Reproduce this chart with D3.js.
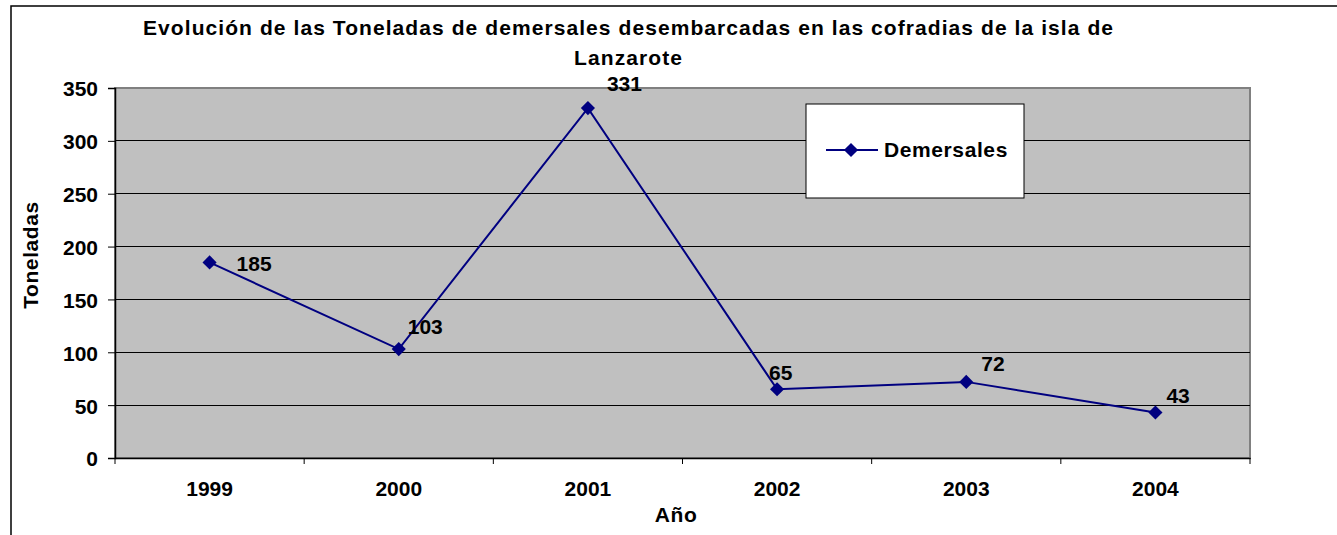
<!DOCTYPE html>
<html><head><meta charset="utf-8">
<script src="https://cdn.jsdelivr.net/npm/d3@7"></script>
<style>body{margin:0;background:#fff}svg{display:block}text{font-family:"Liberation Sans",Arial,sans-serif;font-weight:bold;fill:#000}</style>
</head><body>
<script>
const titleLines = ["Evolución de las Toneladas de demersales desembarcadas en las cofradias de la isla de", "Lanzarote"];
const years = ["1999","2000","2001","2002","2003","2004"];
const demersales = [185, 103, 331, 65, 72, 43];
const yTicks = [0,50,100,150,200,250,300,350];
const seriesName = "Demersales";
const xTitle = "Año";
const yTitle = "Toneladas";

const W = 1337, H = 535;
const m = {left:115, right:1250, top:88, bottom:458};
const svg = d3.select("body").append("svg").attr("width",W).attr("height",H);
svg.append("rect").attr("width",W).attr("height",H).attr("fill","#fff");
// outer chart border
svg.append("rect").attr("x",11).attr("y",6).attr("width",W+20).attr("height",H+20)
  .attr("fill","none").attr("stroke","#000").attr("stroke-width",1.5);

const x = d3.scaleBand().domain(years).range([m.left,m.right]);
const y = d3.scaleLinear().domain([0,350]).range([m.bottom,m.top]);

// plot area
svg.append("rect").attr("x",m.left).attr("y",m.top).attr("width",m.right-m.left).attr("height",m.bottom-m.top)
  .attr("fill","#c0c0c0").attr("stroke","#808080").attr("stroke-width",2);
// gridlines
svg.append("g").selectAll("line").data(yTicks.filter(d=>d>0 && d<350)).join("line")
  .attr("x1",m.left).attr("x2",m.right).attr("y1",d=>y(d)).attr("y2",d=>y(d))
  .attr("stroke","#000").attr("stroke-width",1).attr("shape-rendering","crispEdges");

// y axis
const ya = svg.append("g").attr("transform",`translate(${m.left},0)`)
  .call(d3.axisLeft(y).tickValues(yTicks).tickSize(7).tickPadding(10).tickFormat(d3.format("d")));
ya.select(".domain").attr("stroke","#000").attr("stroke-width",1.5);
ya.selectAll(".tick line").attr("stroke","#000");
ya.selectAll(".tick text").attr("font-size",21).attr("font-family","Liberation Sans, Arial, sans-serif").attr("font-weight","bold").attr("dy","0.38em");

// x axis
const xa = svg.append("g").attr("transform",`translate(0,${m.bottom})`)
  .call(d3.axisBottom(x).tickSize(0).tickPadding(23));
xa.select(".domain").attr("stroke","#000").attr("stroke-width",1.5);
xa.selectAll(".tick text").attr("font-size",21).attr("font-family","Liberation Sans, Arial, sans-serif").attr("font-weight","bold");
// category boundary ticks
const bounds = years.map(d=>x(d)).concat([x(years[years.length-1])+x.bandwidth()]);
svg.append("g").selectAll("line").data(bounds).join("line")
  .attr("x1",d=>d).attr("x2",d=>d).attr("y1",m.bottom).attr("y2",m.bottom+6).attr("stroke","#000");

// line
const cx = d=>x(d)+x.bandwidth()/2;
const pts = years.map((d,i)=>[cx(d), y(demersales[i])]);
svg.append("path").attr("d",d3.line()(pts)).attr("fill","none").attr("stroke","#000080").attr("stroke-width",2);
const diamond = d3.symbol().type(d3.symbolSquare).size(100);
svg.append("g").selectAll("path").data(pts).join("path")
  .attr("transform",d=>`translate(${d[0]},${d[1]}) rotate(45)`).attr("d",diamond).attr("fill","#000080");

// data labels (offsets relative to the point: left edge, baseline)
const labelOff = [[27,9],[9,-15],[19,-17],[-8,-9],[15,-11],[11,-10]];
svg.append("g").selectAll("text").data(demersales).join("text")
  .attr("x",(d,i)=>pts[i][0]+labelOff[i][0]).attr("y",(d,i)=>pts[i][1]+labelOff[i][1])
  .attr("font-size",21).text(d=>d);

// title
const titleWidths = [970, 108];
svg.append("g").selectAll("text").data(titleLines).join("text")
  .attr("x",628).attr("y",(d,i)=>35+i*30).attr("text-anchor","middle").attr("font-size",21)
  .attr("textLength",(d,i)=>titleWidths[i]).attr("lengthAdjust","spacing").text(d=>d);

// axis titles
svg.append("text").attr("x",676).attr("y",522).attr("text-anchor","middle").attr("font-size",21)
  .attr("letter-spacing","0.6px").text(xTitle);
svg.append("text").attr("transform","translate(38,255) rotate(-90)").attr("text-anchor","middle").attr("font-size",21)
  .attr("letter-spacing","0.6px").text(yTitle);

// legend
const lg = svg.append("g");
lg.append("rect").attr("x",806).attr("y",104).attr("width",218).attr("height",94)
  .attr("fill","#fff").attr("stroke","#000").attr("stroke-width",1);
lg.append("line").attr("x1",826).attr("x2",878).attr("y1",150).attr("y2",150).attr("stroke","#000080").attr("stroke-width",2);
lg.append("path").attr("transform","translate(851,150) rotate(45)").attr("d",diamond).attr("fill","#000080");
lg.append("text").attr("x",884).attr("y",157).attr("font-size",21).attr("letter-spacing","0.6px").text(seriesName);
</script>
</body></html>
